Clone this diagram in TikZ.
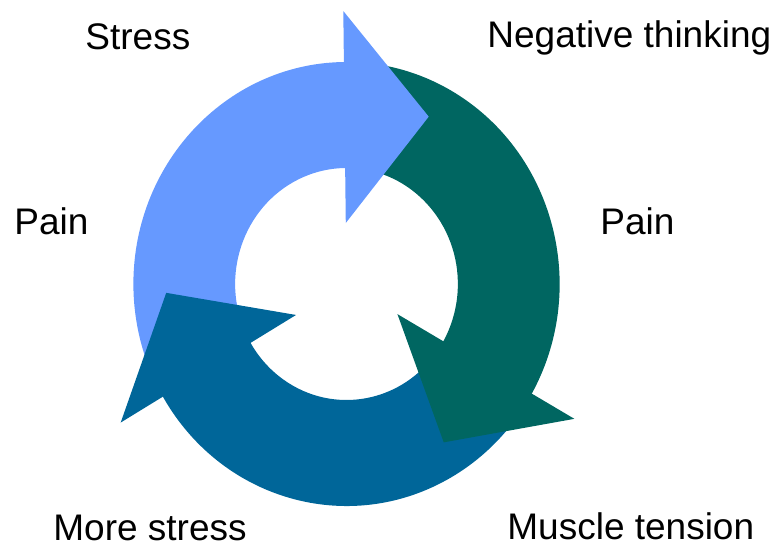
\documentclass[tikz,border=0pt]{standalone}
\usepackage{fontspec}
\setmainfont{Liberation Sans}
\usetikzlibrary{calc}
\definecolor{sky}{HTML}{6699FF}
\definecolor{pine}{HTML}{006661}
\definecolor{deep}{HTML}{006699}

\begin{document}
\begin{tikzpicture}[x=.5pt,y=.5pt,
  lbl/.style={font=\fontsize{18.5}{22}\selectfont,inner sep=0pt,anchor=base west}]
\useasboundingbox (0,0) rectangle (776,546);
% wheel: three bodies first, then the three heads on top
\begin{scope}[shift={(346.5,262)},xscale=.96]
\foreach \c/\a in {sky/90.7,pine/-29.6,deep/210.5}{
  \fill[\c] (\a+115:116) arc[start angle=\a+115,end angle=\a-1,radius=116]
    -- (\a-1:222) arc[start angle=\a-1,end angle=\a+115,radius=222] -- cycle;
}
\foreach \c/\a in {sky/90.7,pine/-29.6,deep/210.5}{
  \fill[\c] (\a:61) -- (\a:273) -- (\a-27.8:188) -- cycle;
}
\end{scope}
% labels
\node[lbl] (stress) at (85,496) {Stress};
\node[lbl] (negthink) at (487,498) {Negative thinking};
\node[lbl] (painl) at (14,311) {Pain};
\node[lbl] (painr) at (600,311) {Pain};
\node[lbl] (morestress) at (53,6) {More stress};
\node[lbl] (muscle) at (507,7) {Muscle tension};
\end{tikzpicture}
\end{document}
